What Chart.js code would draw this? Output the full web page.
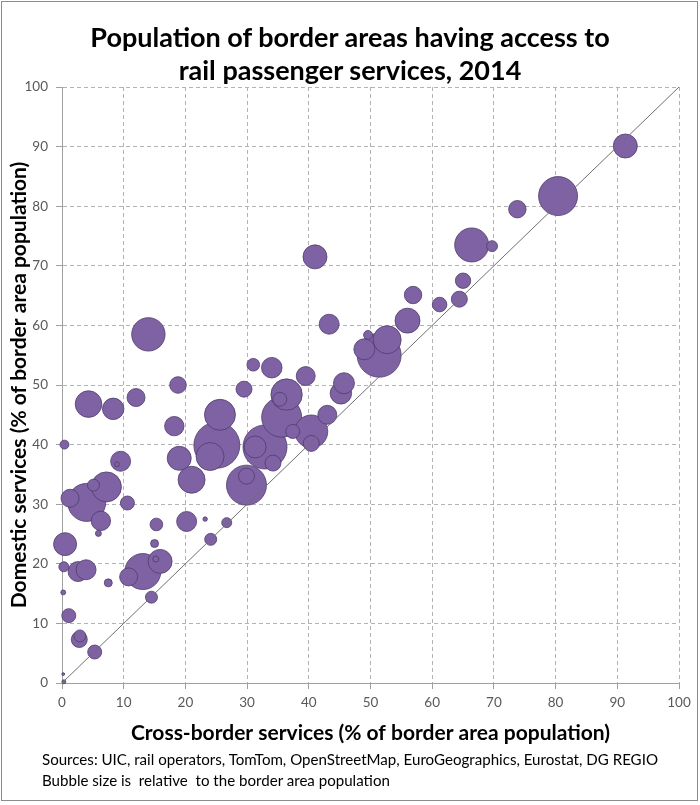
<!DOCTYPE html>
<html>
<head>
<meta charset="utf-8">
<script src="https://cdn.jsdelivr.net/npm/chart.js@4.4.1/dist/chart.umd.min.js"></script>
<style>
html,body{margin:0;padding:0;background:#fff;}
#wrap{position:relative;width:700px;height:805px;overflow:hidden;font-family:Lato,'Open Sans',sans-serif;background:#fff;}
#frame{position:absolute;left:1px;top:1px;width:697px;height:800px;border:1px solid #8c8c8c;box-sizing:border-box;pointer-events:none;}
#title{position:absolute;left:0;top:20px;width:700px;text-align:center;font-weight:700;font-size:27px;line-height:33px;color:#000;}
#note{position:absolute;left:42px;top:749px;font-size:15.1px;line-height:21px;color:#000;white-space:pre;}
canvas{position:absolute;left:0;top:0;}
</style>
</head>
<body>
<div id="wrap">
<canvas id="c" width="700" height="805"></canvas>
<div id="frame"></div>
<div id="title">Population of border areas having access to<br>rail passenger services, 2014</div>
<div id="note">Sources: UIC, rail operators, TomTom, OpenStreetMap, EuroGeographics, Eurostat, DG REGIO
Bubble size is  relative  to the border area population</div>
</div>
<script>
// Cross-border services (% of border area population)
const crossBorder = [91.3,80.4,73.8,66.4,69.7,41.0,65.0,64.4,61.2,56.9,56.0,43.3,49.6,52.7,51.4,49.0,39.5,45.7,45.2,43.0,
  40.4,40.4,31.0,34.0,29.5,36.4,35.3,35.6,25.6,37.4,32.9,31.3,25.1,24.0,34.2,29.9,29.9,21.0,20.2,23.2,
  26.7,14.0,18.8,4.3,8.3,12.0,18.2,0.4,9.5,8.9,19.0,7.2,5.1,4.0,1.3,6.3,5.9,10.6,0.5,15.3,
  15.0,24.1,13.1,10.8,15.9,15.2,0.3,2.6,3.9,7.5,0.2,14.5,1.1,2.8,2.9,5.3,0.2,0.3];
// Domestic services (% of border area population)
const domestic = [90.1,81.7,79.5,73.5,73.3,71.5,67.5,64.4,63.5,65.1,60.8,60.2,58.4,57.6,55.0,56.0,51.5,50.3,48.6,45.0,
  42.2,40.2,53.4,52.9,49.3,48.4,47.6,44.6,45.0,42.2,39.6,39.6,39.9,38.0,36.9,33.2,34.7,34.1,27.1,27.5,
  26.9,58.5,50.0,46.8,46.0,47.9,43.1,40.0,37.2,36.7,37.7,32.9,33.2,30.3,31.0,27.2,25.1,30.2,23.3,26.6,
  23.4,24.1,18.7,17.8,20.4,20.8,19.5,18.7,19.0,16.8,15.2,14.4,11.3,7.3,7.9,5.2,1.5,0.2];
// Border area population (thousands)
const population = [1440,3800,760,2890,300,1440,590,640,530,760,1560,1000,200,1960,4840,1100,900,1100,1150,900,
  2720,640,400,1060,640,2460,490,4000,2400,490,4840,1210,5290,1960,640,4000,640,1820,1000,50,
  250,2790,690,1770,1150,810,940,200,1000,60,1440,2250,360,3610,810,940,90,490,1320,400,
  160,360,3240,810,1440,90,250,1000,1000,160,60,360,490,640,360,490,20,40];
// Equality line (cross-border = domestic)
const diagX = [0,100];
const diagY = [0,100];
const xTitle = 'Cross-border services (% of border area population)';
const yTitle = 'Domestic services (% of border area population)';

const pts = crossBorder.map((x,i)=>({x:x, y:domestic[i], p:population[i]}))
  .sort((a,b)=>b.p-a.p);

const FONT = 'Lato, "Open Sans", sans-serif';
const gridCol = '#b3b3b3';
const axisCol = '#a0a0a0';

new Chart(document.getElementById('c'), {
  type: 'bubble',
  data: {
    datasets: [
      {
        type: 'line',
        data: diagX.map((x,i)=>({x:x, y:diagY[i]})),
        borderColor: '#707070',
        borderWidth: 1,
        pointRadius: 0,
        tension: 0,
        order: 0
      },
      {
        type: 'bubble',
        data: pts.map(d=>({x:d.x, y:d.y, r:Math.sqrt(d.p/10)})),
        backgroundColor: '#7f62a4',
        borderColor: '#4e3c6b',
        borderWidth: 0.8,
        clip: false,
        order: 1
      }
    ]
  },
  options: {
    responsive: false,
    animation: false,
    events: [],
    layout: { autoPadding: false, padding: { left: 7, right: 21, top: 87, bottom: 59.4 } },
    plugins: { legend: { display: false }, tooltip: { enabled: false } },
    scales: {
      x: {
        type: 'linear', min: 0, max: 100,
        ticks: { stepSize: 10, color: '#595959', font: { family: FONT, size: 13.5 }, padding: 6, maxRotation: 0 },
        grid: { color: gridCol, lineWidth: 1, tickLength: 6, tickColor: axisCol, drawTicks: true },
        border: { color: axisCol, width: 1, dash: [4,3] },
        title: { display: true, text: xTitle, color: '#000', font: { family: FONT, size: 21, weight: 'bold' }, padding: { top: 10, bottom: 0 } },
        afterFit: s => { s.height = 62.6; }
      },
      y: {
        type: 'linear', min: 0, max: 100,
        ticks: { stepSize: 10, color: '#595959', font: { family: FONT, size: 13.5 }, padding: 8 },
        grid: { color: gridCol, lineWidth: 1, tickLength: 6, tickColor: axisCol, drawTicks: true },
        border: { color: axisCol, width: 1, dash: [4,3] },
        title: { display: true, text: yTitle, color: '#000', font: { family: FONT, size: 21, weight: 'bold' }, padding: { top: 0, bottom: 0 } },
        afterFit: s => { s.width = 55; }
      }
    }
  }
});
</script>
</body>
</html>
